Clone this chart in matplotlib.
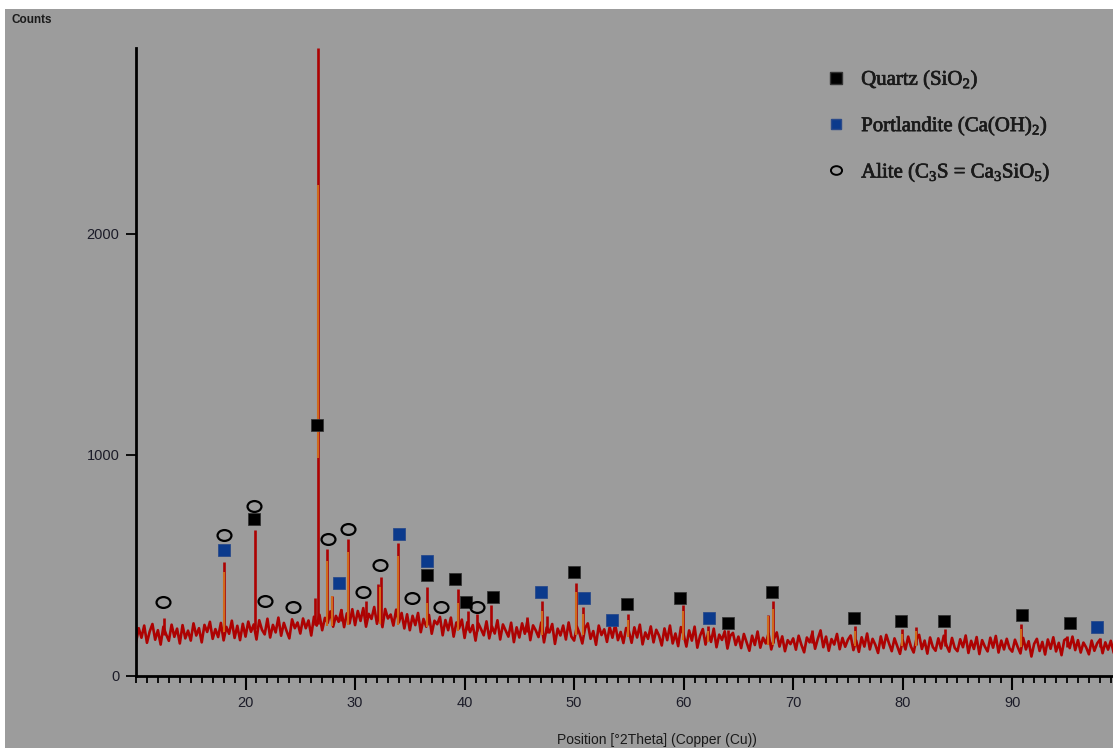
import numpy as np
import matplotlib
matplotlib.use("Agg")
import matplotlib.pyplot as plt
import matplotlib.patheffects as pe
from matplotlib.lines import Line2D
from matplotlib.patches import Rectangle
from matplotlib.path import Path
from matplotlib.transforms import Affine2D
from matplotlib.ticker import MultipleLocator

plt.rcParams['font.family'] = ['Liberation Sans', 'DejaVu Sans']
plt.rcParams['mathtext.fontset'] = 'custom'
plt.rcParams['mathtext.rm'] = 'Liberation Serif'

# XRD scan, 0.25 deg step starting at 10 deg 2theta (counts)
scan_start = 10.0
scan_step = 0.25
scan_counts = [
    150, 214, 171, 226, 148, 199, 233, 162, 205, 140, 221, 186, 157, 230, 175, 212, 145, 228, 168, 203,
    158, 236, 181, 214, 150, 229, 197, 243, 166, 210, 174, 238, 159, 220, 189, 248, 170, 225, 160, 234,
    176, 244, 198, 231, 163, 250, 207, 186, 257, 172, 229, 195, 262, 180, 238, 201, 168, 254, 214, 240,
    190, 258, 214, 249, 181, 266, 226, 275, 205, 261, 238, 290, 221, 270, 243, 296, 219, 281, 236, 300,
    228, 292, 247, 305, 221, 279, 256, 310, 234, 288, 219, 301, 258, 276, 226, 298, 240, 283, 213, 277,
    205, 270, 228, 283, 196, 256, 221, 274, 189, 248, 232, 265, 182, 251, 205, 262, 176, 240, 214, 253,
    170, 241, 196, 228, 158, 236, 210, 182, 245, 168, 222, 190, 250, 163, 231, 204, 176, 239, 151, 218,
    172, 236, 189, 251, 160, 227, 204, 174, 240, 150, 218, 195, 233, 143, 212, 181, 226, 163, 240, 176,
    158, 222, 190, 145, 214, 236, 166, 201, 139, 226, 183, 209, 152, 220, 171, 232, 160, 197, 147, 215,
    200, 148, 218, 172, 230, 141, 195, 166, 222, 150, 207, 181, 136, 213, 160, 226, 145, 190, 133, 219,
    185, 131, 204, 158, 221, 126, 180, 210, 140, 196, 152, 212, 128, 185, 161, 200, 122, 179, 193, 138,
    176, 124, 188, 150, 112, 180, 138, 199, 126, 171, 145, 190, 118, 166, 195, 131, 177, 110, 160, 142,
    168, 117, 180, 139, 105, 172, 150, 193, 121, 166, 204, 128, 176, 112, 165, 140, 188, 119, 170, 130,
    162, 181, 115, 158, 107, 173, 131, 190, 118, 166, 139, 102, 177, 124, 184, 145, 110, 168, 133, 98,
    160, 118, 176, 131, 104, 165, 184, 120, 158, 99, 172, 129, 112, 168, 122, 180, 136, 108, 170, 125,
    110, 164, 128, 181, 102, 157, 120, 174, 97, 160, 131, 109, 171, 126, 179, 104, 158, 118, 166, 123,
    108, 162, 129, 100, 170, 118, 155, 86, 143, 166, 111, 152, 95, 163, 121, 173, 109, 148, 92, 160,
    168, 124, 176, 115, 160, 104, 149, 127, 96, 158, 112, 145, 162, 101, 150, 117, 157, 106,
]

# sharp reflections: position, local background, top
peak_pos = [12.6, 18.0, 20.85, 26.35, 26.62, 27.47, 27.9, 28.7, 29.4, 31.0, 32.05, 32.4, 33.96,
            36.55, 39.4, 40.3, 41.16, 42.45, 45.7, 47.06, 47.5, 50.15, 50.8, 54.88, 59.93,
            62.2, 64.05, 67.7, 68.18, 71.75, 75.67, 79.93, 81.2, 83.83, 90.83, 94.96, 98.0]
peak_base = [185, 200, 210, 230, 232, 240, 245, 248, 252, 258, 258, 258, 245,
             230, 210, 205, 202, 200, 195, 192, 191, 187, 186, 177, 168,
             160, 155, 147, 146, 145, 140, 136, 136, 135, 132, 130, 129]
peak_top = [262, 515, 660, 353, 2842, 572, 362, 300, 617, 339, 415, 447, 599,
            400, 392, 294, 280, 320, 264, 339, 268, 419, 309, 279, 321,
            223, 207, 276, 335, 204, 223, 210, 219, 212, 234, 181, 170]

# orange reference sticks
stick_pos = [18.0, 26.62, 27.47, 27.9, 29.4, 32.3, 33.96, 36.55, 39.4, 47.06, 50.15, 50.8,
             54.88, 59.93, 62.2, 67.7, 68.18, 75.67, 79.93, 81.2, 90.83]
stick_lo = [198, 983, 222, 222, 230, 235, 230, 220, 200, 185, 182, 182,
            172, 160, 152, 140, 140, 135, 132, 132, 128]
stick_hi = [467, 2222, 520, 362, 560, 400, 540, 330, 330, 290, 380, 280,
            250, 290, 200, 270, 300, 200, 190, 200, 210]

# phase markers
quartz_x = [20.78, 26.49, 36.58, 39.15, 40.13, 42.55, 49.95, 54.85, 59.66, 64.07, 68.09,
            75.52, 79.87, 83.74, 90.87, 95.28]
quartz_y = [709, 1136, 454, 437, 333, 356, 470, 323, 351, 239, 378, 259, 246, 246, 276, 239]
portlandite_x = [18.0, 28.5, 33.99, 36.58, 46.97, 50.87, 53.48, 62.28, 97.72]
portlandite_y = [566, 418, 639, 516, 378, 351, 252, 259, 218]
alite_x = [12.44, 18.0, 20.78, 21.82, 24.34, 27.56, 29.32, 30.68, 32.32, 35.17, 37.85, 41.09]
alite_y = [333, 635, 769, 335, 309, 620, 662, 380, 499, 353, 309, 311]

labels = [r'Quartz (SiO$_\mathrm{2}$)',
          r'Portlandite (Ca(OH)$_\mathrm{2}$)',
          r'Alite (C$_\mathrm{3}$S = Ca$_\mathrm{3}$SiO$_\mathrm{5}$)']

red = '#ad0202'
orange = '#cf6a1c'
blue = '#0b3a8c'
gray = '#9c9c9c'

# slightly flattened circle like the original
ellipse = Path(Affine2D().scale(1.0, 0.78).transform(Path.unit_circle().vertices),
               Path.unit_circle().codes)

W, H = 1113, 748
fig = plt.figure(figsize=(W / 100, H / 100), dpi=100, facecolor='white')
fig.add_artist(Rectangle((5 / W, 0), 1, (H - 9) / H, transform=fig.transFigure,
                         facecolor=gray, edgecolor='none', zorder=-10))

ax = fig.add_axes([136 / W, 72.5 / H, 1 - 136 / W, 627.5 / H])
ax.set_facecolor('none')

scan_x = scan_start + scan_step * np.arange(len(scan_counts))
ax.plot(scan_x, scan_counts, color=red, lw=1.9, zorder=2)
ax.vlines(peak_pos, peak_base, peak_top, color=red, lw=1.9, zorder=2)
ax.vlines(stick_pos, stick_lo, stick_hi, color=orange, lw=1.5, zorder=3)

ax.plot(quartz_x, quartz_y, ls='none', marker='s', ms=8.8, mfc='black', mec='#333333', mew=0.6, zorder=4)
ax.plot(portlandite_x, portlandite_y, ls='none', marker='s', ms=8.2, mfc=blue, mec='#2a4a8a', mew=0.6, zorder=4)
ax.plot(alite_x, alite_y, ls='none', marker=ellipse, ms=10.0, mfc='none', mec='black', mew=1.6, zorder=4)

ax.set_xlim(10.0, 99.2)
ax.set_ylim(0, 2840)
ax.set_xticks(range(20, 100, 10))
ax.xaxis.set_minor_locator(MultipleLocator(1))
ax.set_yticks([0, 1000, 2000])
ax.tick_params(axis='x', which='major', length=10, width=1.5, pad=5, labelsize=10.5, labelcolor='#1c1c28')
ax.tick_params(axis='x', which='minor', length=5, width=1.3)
ax.tick_params(axis='y', length=7, width=1.3, pad=5, labelsize=10.5, labelcolor='#1c1c28')
for s in ['top', 'right']:
    ax.spines[s].set_visible(False)
for s in ['left', 'bottom']:
    ax.spines[s].set_linewidth(2)

handles = [
    Line2D([], [], ls='none', marker='s', ms=8, mfc='black', mec='#333333'),
    Line2D([], [], ls='none', marker='s', ms=7.5, mfc=blue, mec='#2a4a8a'),
    Line2D([], [], ls='none', marker=ellipse, ms=8, mfc='none', mec='black', mew=1.4),
]
leg = fig.legend(handles, labels, loc='upper left', bbox_to_anchor=(817 / W, 1 - 60 / H),
                 frameon=False, handlelength=1.0, handletextpad=0.72, labelspacing=1.12,
                 borderaxespad=0, prop={'family': 'Liberation Serif', 'size': 15})
for t in leg.get_texts():
    t.set_color('#1a1a1a')
    t.set_path_effects([pe.withStroke(linewidth=0.5, foreground='#1a1a1a')])

fig.text(12 / W, 1 - 20 / H, 'Counts', fontsize=8.5, fontweight='bold', color='#1a1a1a',
         ha='left', va='center')
fig.text(657 / W, 1 - 740 / H, 'Position [°2Theta] (Copper (Cu))', fontsize=10,
         color='#1a1a1a', ha='center', va='center')

fig.savefig('out.png', dpi=100, facecolor=fig.get_facecolor())
